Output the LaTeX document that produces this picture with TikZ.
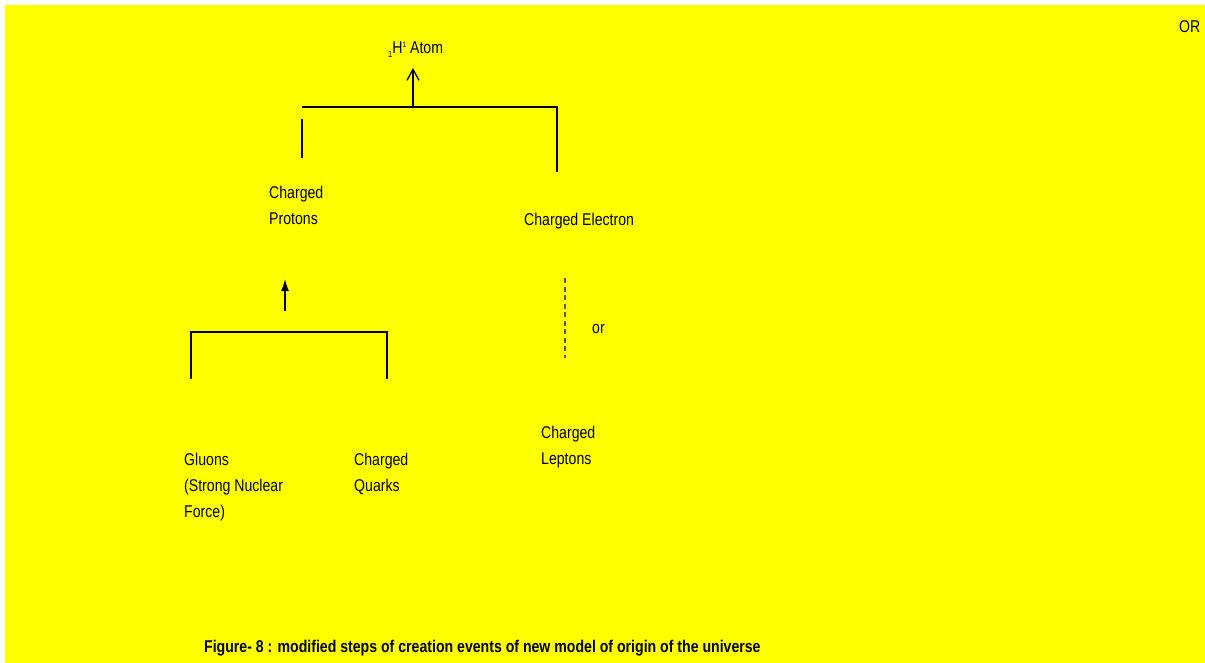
\documentclass[tikz,border=0pt]{standalone}
\usepackage{fontspec}
\setmainfont{Liberation Sans}[FakeStretch=0.83]
\usetikzlibrary{positioning,arrows.meta}
\definecolor{bgyellow}{RGB}{255,255,0}

\begin{document}
\begin{tikzpicture}[x=1pt,y=-1pt,
  label/.style={inner sep=0pt, anchor=base west, align=left,
    font=\fontsize{17}{26}\selectfont},
  link/.style={line width=1.4pt},
  orline/.style={line width=1.3pt, black!65, dash pattern=on 5pt off 3.5pt}]
  \useasboundingbox (0,0) rectangle (1205,663);
  \fill[bgyellow] (5,5) rectangle (1205,663);

  % texts (multi-line ones sit on their last line)
  \node[label] (atom) at (388,54)
    {\raisebox{-4pt}{\fontsize{9}{9}\selectfont 1}H\raisebox{6pt}{\fontsize{8}{8}\selectfont 1} Atom};
  \node[label] (protons) at (269,225) {Charged\\Protons};
  \node[label] (electron) at (524,226) {Charged Electron};
  \node[label] (or) at (592,333) {or};
  \node[label] (leptons) at (541,464) {Charged\\Leptons};
  \node[label] (gluons) at (184,517) {Gluons\\(Strong Nuclear\\Force)};
  \node[label] (quarks) at (354,491) {Charged\\Quarks};
  \node[label] (OR) at (1179,33) {OR};
  \node[label, font=\fontsize{17}{20}\selectfont\bfseries] (caption) at (204,652)
    {Figure- 8 : modified steps of creation events of new model of origin of the universe};

  % upper bracket
  \coordinate (topleft) at (302,107);
  \coordinate (topright) at (557,107);
  \coordinate (topmid) at (413,107);
  \coordinate (atomtip) at (413,68);
  \coordinate (protonup) at (302,119);
  \coordinate (protonlow) at (302,158);
  \coordinate (electronup) at (557,172);
  \draw[link] (topleft) -- (topright) -- (electronup);
  \draw[link] (protonup) -- (protonlow);
  \draw[link, -{Straight Barb[length=11pt,width=12pt,line width=1.3pt]}] (topmid) -- (atomtip);

  % lower bracket
  \coordinate (lowleft) at (191,379);
  \coordinate (lowright) at (387,379);
  \coordinate (lowbarleft) at (191,332);
  \coordinate (lowbarright) at (387,332);
  \coordinate (lowfoot) at (285,311);
  \coordinate (lowtip) at (285,279);
  \draw[link, line width=1.8pt] (lowleft) -- (lowbarleft) -- (lowbarright) -- (lowright);
  \draw[link, -{Latex[length=12pt,width=8pt]}] (lowfoot) -- (lowtip);

  % electron or leptons
  \coordinate (dashtop) at (565,278);
  \coordinate (dashlow) at (565,358);
  \draw[orline] (dashtop) -- (dashlow);
\end{tikzpicture}
\end{document}
